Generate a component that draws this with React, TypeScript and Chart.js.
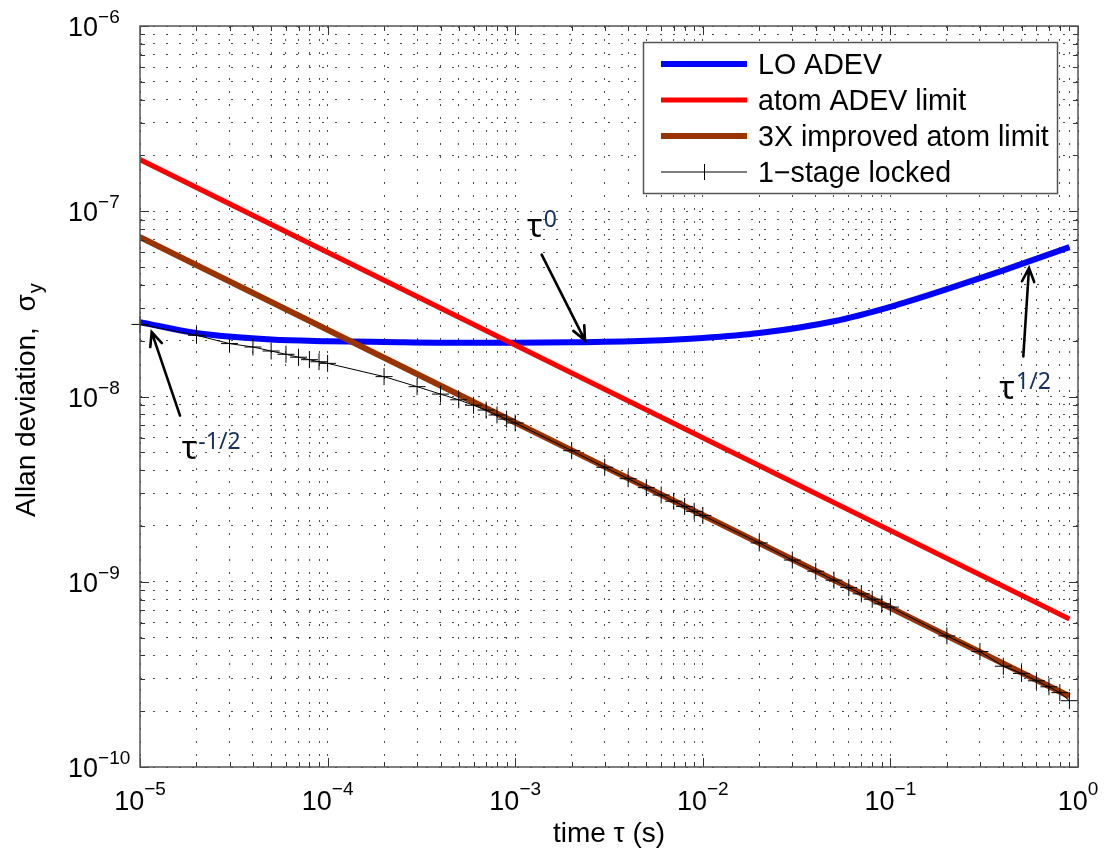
import React, { useEffect, useRef } from 'react';
import { Chart, registerables } from 'chart.js';
Chart.register(...registerables);

// ---- data ----
const TAU_LO = [1e-5, 2e-5, 5e-5, 1e-4, 2e-4, 5e-4, 1e-3, 2e-3, 5e-3, 1e-2, 2e-2, 5e-2, 1e-1, 2e-1, 4e-1, 9e-1];
const LO_ADEV = [2.52e-8, 2.2e-8, 2.03e-8, 1.99e-8, 1.97e-8, 1.95e-8, 1.95e-8, 1.96e-8, 2.0e-8, 2.07e-8, 2.2e-8, 2.55e-8, 3.05e-8, 3.8e-8, 4.8e-8, 6.4e-8];

const TAU_ATOM = [1e-5, 9e-1];
const ATOM_LIMIT = [1.9e-7, 6.3e-10];
const ATOM_3X = [7.24e-8, 2.41e-10];

const TAU_LOCK = [
  1e-5, 2e-5, 3e-5, 4e-5, 5e-5, 6e-5, 7e-5, 8e-5, 9e-5,
  1e-4, 2e-4, 3e-4, 4e-4, 5e-4, 6e-4, 7e-4, 8e-4, 9e-4,
  1e-3, 2e-3, 3e-3, 4e-3, 5e-3, 6e-3, 7e-3, 8e-3, 9e-3,
  1e-2, 2e-2, 3e-2, 4e-2, 5e-2, 6e-2, 7e-2, 8e-2, 9e-2,
  1e-1, 2e-1, 3e-1, 4e-1, 5e-1, 6e-1, 7e-1, 8e-1, 9e-1,
];
const LOCKED = [
  2.45e-8, 2.14e-8, 1.93e-8, 1.85e-8, 1.76e-8, 1.69e-8, 1.63e-8, 1.58e-8, 1.54e-8,
  1.51e-8, 1.28e-8, 1.13e-8, 1.03e-8, 9.6e-9, 8.97e-9, 8.45e-9, 7.95e-9, 7.55e-9,
  7.2e-9, 5.1e-9, 4.15e-9, 3.6e-9, 3.22e-9, 2.94e-9, 2.72e-9, 2.55e-9, 2.4e-9,
  2.28e-9, 1.62e-9, 1.31e-9, 1.14e-9, 1.02e-9, 9.3e-10, 8.6e-10, 8.05e-10, 7.6e-10,
  7.3e-10, 5.1e-10, 4.2e-10, 3.5e-10, 3.2e-10, 2.92e-10, 2.71e-10, 2.52e-10, 2.28e-10,
];

const SERIES_NAMES = ['LO ADEV', 'atom ADEV limit', '3X improved atom limit', '1\u2212stage locked'];
const SERIES_COLORS = ['#0000FF', '#FF0000', '#993300', '#000000'];

const MANTISSAS = [1, 2, 3, 4, 5, 6, 7, 8, 9];
const X_EXPONENTS = [-5, -4, -3, -2, -1, 0];
const Y_EXPONENTS = [-10, -9, -8, -7, -6];

const X_TITLE = 'time \u03c4 (s)';
const Y_TITLE = 'Allan deviation,  \u03c3';
const Y_TITLE_SUB = 'y';

const ANNOTATIONS = [
  { sup: '0', tx: 1.156e-3, ty: 7.24e-8, fx: 1.384e-3, fy: 5.83e-8, hx: 2.355e-3, hy: 2.01e-8 },
  { sup: '-1/2', tx: 1.667e-5, ty: 4.62e-9, fx: 1.634e-5, fy: 7.89e-9, hx: 1.154e-5, hy: 2.226e-8 },
  { sup: '1/2', tx: 0.3806, ty: 9.75e-9, fx: 0.511, fy: 1.645e-8, hx: 0.548, hy: 4.94e-8 },
];

const buildTicks = (exps: number[]) => {
  const out: number[] = [];
  for (let i = 0; i < exps.length - 1; i++) {
    for (const m of MANTISSAS) out.push(m * Math.pow(10, exps[i]));
  }
  out.push(Math.pow(10, exps[exps.length - 1]));
  return out;
};
const X_TICKS = buildTicks(X_EXPONENTS);
const Y_TICKS = buildTicks(Y_EXPONENTS);

const isMajor = (v: number) => Math.abs(Math.log10(v) - Math.round(Math.log10(v))) < 1e-6;
const expText = (e: number) => (e < 0 ? '\u2212' + Math.abs(e) : String(e));

const FONT = '"Liberation Sans", Arial, sans-serif';
const ANN_FONT = '"Noto Sans", "Open Sans", sans-serif';

const overlayPlugin = {
  id: 'overlay',
  afterDatasetsDraw(chart: any) {
    const ctx: CanvasRenderingContext2D = chart.ctx;
    const xs = chart.scales.x;
    const ys = chart.scales.y;
    const { left, right, top, bottom } = chart.chartArea;
    ctx.save();

    // inward tick marks
    ctx.strokeStyle = '#333';
    ctx.lineWidth = 1;
    ctx.beginPath();
    X_TICKS.forEach((v) => {
      const px = Math.round(xs.getPixelForValue(v)) + 0.5;
      const len = isMajor(v) ? 9 : 5;
      ctx.moveTo(px, bottom); ctx.lineTo(px, bottom - len);
      ctx.moveTo(px, top); ctx.lineTo(px, top + len);
    });
    Y_TICKS.forEach((v) => {
      const py = Math.round(ys.getPixelForValue(v)) + 0.5;
      const len = isMajor(v) ? 9 : 5;
      ctx.moveTo(left, py); ctx.lineTo(left + len, py);
      ctx.moveTo(right, py); ctx.lineTo(right - len, py);
    });
    ctx.stroke();

    // frame
    ctx.strokeStyle = '#555';
    ctx.lineWidth = 1.5;
    ctx.strokeRect(left, top, right - left, bottom - top);

    // tick labels
    ctx.fillStyle = '#000';
    ctx.textBaseline = 'alphabetic';
    ctx.textAlign = 'left';
    X_EXPONENTS.forEach((e) => {
      const px = xs.getPixelForValue(Math.pow(10, e));
      ctx.font = `27px ${FONT}`;
      const w1 = ctx.measureText('10').width;
      ctx.font = `19px ${FONT}`;
      const w2 = ctx.measureText(expText(e)).width;
      const sx = px - (w1 + w2) / 2;
      ctx.font = `27px ${FONT}`;
      ctx.fillText('10', sx, bottom + 43);
      ctx.font = `19px ${FONT}`;
      ctx.fillText(expText(e), sx + w1, bottom + 28);
    });
    Y_EXPONENTS.forEach((e) => {
      const py = ys.getPixelForValue(Math.pow(10, e));
      ctx.font = `27px ${FONT}`;
      const w1 = ctx.measureText('10').width;
      const sx = left - 72;
      ctx.fillText('10', sx, py + 10);
      ctx.font = `19px ${FONT}`;
      ctx.fillText(expText(e), sx + w1, py - 3);
    });

    // axis titles
    ctx.font = `28px ${FONT}`;
    ctx.textAlign = 'center';
    ctx.fillText(X_TITLE, (left + right) / 2, bottom + 75);
    ctx.save();
    ctx.translate(35, 517);
    ctx.rotate(-Math.PI / 2);
    ctx.textAlign = 'left';
    ctx.font = `28px ${FONT}`;
    const wt = ctx.measureText(Y_TITLE).width;
    ctx.fillText(Y_TITLE, 0, 0);
    ctx.font = `20px ${FONT}`;
    ctx.fillText(Y_TITLE_SUB, wt + 1, 7);
    ctx.restore();

    // annotations
    ANNOTATIONS.forEach((a) => {
      const fx = xs.getPixelForValue(a.fx), fy = ys.getPixelForValue(a.fy);
      const hx = xs.getPixelForValue(a.hx), hy = ys.getPixelForValue(a.hy);
      ctx.strokeStyle = '#000';
      ctx.lineWidth = 2.6;
      ctx.lineCap = 'round';
      ctx.beginPath();
      ctx.moveTo(fx, fy); ctx.lineTo(hx, hy);
      const ang = Math.atan2(hy - fy, hx - fx);
      const hl = 15, ha = 0.42;
      ctx.moveTo(hx - hl * Math.cos(ang - ha), hy - hl * Math.sin(ang - ha));
      ctx.lineTo(hx, hy);
      ctx.lineTo(hx - hl * Math.cos(ang + ha), hy - hl * Math.sin(ang + ha));
      ctx.stroke();
      const tx = xs.getPixelForValue(a.tx), ty = ys.getPixelForValue(a.ty);
      ctx.textAlign = 'left';
      ctx.fillStyle = '#000';
      ctx.font = `32px ${ANN_FONT}`;
      const wtau = ctx.measureText('\u03c4').width;
      ctx.fillText('\u03c4', tx, ty);
      ctx.fillStyle = '#15305f';
      ctx.font = `23px ${ANN_FONT}`;
      ctx.fillText(a.sup, tx + wtau + 1, ty - 10);
    });

    // legend
    const lx = 643, ly = 42, lw = 414, lh = 151;
    ctx.fillStyle = '#fff';
    ctx.fillRect(lx, ly, lw, lh);
    ctx.strokeStyle = '#555';
    ctx.lineWidth = 1.5;
    ctx.strokeRect(lx + 0.5, ly + 0.5, lw, lh);
    const rowYs = [64, 100, 136, 172];
    const widths = [6, 5, 6, 1];
    SERIES_NAMES.forEach((name, i) => {
      const y = rowYs[i];
      ctx.strokeStyle = SERIES_COLORS[i];
      ctx.lineWidth = widths[i];
      ctx.lineCap = 'butt';
      ctx.beginPath();
      ctx.moveTo(661, y); ctx.lineTo(747, y);
      if (i === 3) {
        ctx.moveTo(704.5, y - 8); ctx.lineTo(704.5, y + 8);
      }
      ctx.stroke();
      ctx.fillStyle = '#000';
      ctx.font = `28.6px ${FONT}`;
      ctx.textAlign = 'left';
      ctx.fillText(name, 758, y + 10);
    });

    ctx.restore();
  },
};

export default function App() {
  const ref = useRef<HTMLCanvasElement | null>(null);
  useEffect(() => {
    if (!ref.current) return;
    const toPts = (xs: number[], ys: number[]) => xs.map((x, i) => ({ x, y: ys[i] }));
    const chart = new Chart(ref.current, {
      type: 'line',
      data: {
        datasets: [
          {
            label: SERIES_NAMES[0], data: toPts(TAU_LO, LO_ADEV), borderColor: SERIES_COLORS[0],
            borderWidth: 6, pointRadius: 0, cubicInterpolationMode: 'monotone', order: 3,
          },
          {
            label: SERIES_NAMES[1], data: toPts(TAU_ATOM, ATOM_LIMIT), borderColor: SERIES_COLORS[1],
            borderWidth: 5, pointRadius: 0, order: 2,
          },
          {
            label: SERIES_NAMES[2], data: toPts(TAU_ATOM, ATOM_3X), borderColor: SERIES_COLORS[2],
            borderWidth: 6, pointRadius: 0, order: 1,
          },
          {
            label: SERIES_NAMES[3], data: toPts(TAU_LOCK, LOCKED), borderColor: SERIES_COLORS[3],
            borderWidth: 1, pointStyle: 'cross', pointRadius: 8.5, pointBorderWidth: 1,
            pointBorderColor: '#000', pointBackgroundColor: '#000', order: 0, clip: false as any,
          },
        ] as any,
      },
      options: {
        responsive: false,
        animation: false,
        events: [],
        layout: { padding: { left: 140, right: 30, top: 26, bottom: 86 } },
        plugins: { legend: { display: false }, tooltip: { enabled: false }, title: { display: false } },
        scales: {
          x: {
            type: 'logarithmic', min: 1e-5, max: 1,
            afterBuildTicks: (s: any) => { s.ticks = X_TICKS.map((v) => ({ value: v })); },
            afterFit: (s: any) => { s.height = 0; },
            ticks: { display: false },
            grid: { color: 'rgba(0,0,0,0.7)', lineWidth: 1, drawTicks: false },
            border: { display: false, dash: [2, 11] },
          },
          y: {
            type: 'logarithmic', min: 1e-10, max: 1e-6,
            afterBuildTicks: (s: any) => { s.ticks = Y_TICKS.map((v) => ({ value: v })); },
            afterFit: (s: any) => { s.width = 0; },
            ticks: { display: false },
            grid: { color: 'rgba(0,0,0,0.7)', lineWidth: 1, drawTicks: false },
            border: { display: false, dash: [2, 11] },
          },
        },
      } as any,
      plugins: [overlayPlugin],
    });
    return () => chart.destroy();
  }, []);
  return (
    <div style={{ position: 'absolute', left: 0, top: 0, width: 1108, height: 853, background: '#fff' }}>
      <canvas ref={ref} width={1108} height={853} style={{ display: 'block' }} />
    </div>
  );
}
